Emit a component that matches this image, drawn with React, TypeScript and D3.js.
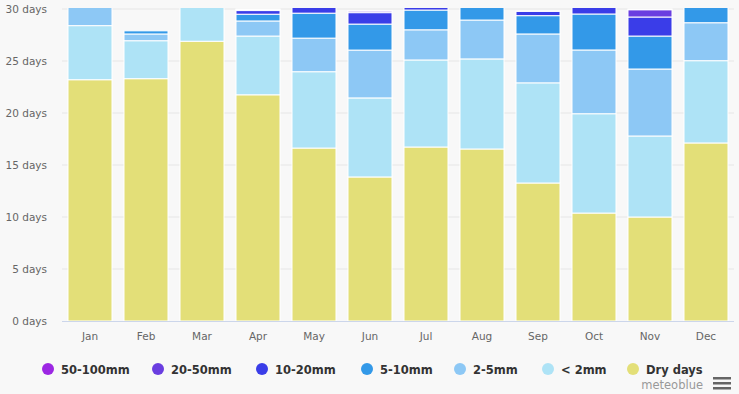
import React from "react";
import * as d3 from "d3";

const months = ["Jan", "Feb", "Mar", "Apr", "May", "Jun", "Jul", "Aug", "Sep", "Oct", "Nov", "Dec"];
const dryDays = [23.2, 23.3, 26.9, 21.75, 16.63, 13.85, 16.73, 16.54, 13.27, 10.38, 10.0, 17.12];
const under2mm = [5.2, 3.65, 4.0, 5.65, 7.34, 7.6, 8.37, 8.66, 9.63, 9.55, 7.79, 7.91];
const mm2to5 = [2.5, 0.65, 0.1, 1.45, 3.23, 4.6, 2.9, 3.74, 4.7, 6.13, 6.44, 3.65];
const mm5to10 = [0.1, 0.3, 0.0, 0.65, 2.4, 2.5, 1.9, 1.7, 1.76, 3.46, 3.17, 2.0];
const mm10to20 = [0.0, 0.0, 0.0, 0.35, 0.9, 1.1, 0.8, 0.3, 0.41, 1.1, 1.83, 0.3];
const mm20to50 = [0.0, 0.0, 0.0, 0.1, 0.4, 0.15, 0.25, 0.06, 0.03, 0.3, 0.7, 0.02];
const mm50to100 = [0.0, 0.0, 0.0, 0.05, 0.1, 0.05, 0.05, 0.0, 0.0, 0.08, 0.07, 0.0];

const seriesNames = ["Dry days", "< 2mm", "2-5mm", "5-10mm", "10-20mm", "20-50mm", "50-100mm"];
const seriesValues = [dryDays, under2mm, mm2to5, mm5to10, mm10to20, mm20to50, mm50to100];
const seriesColors = ["#e3df78", "#aee3f6", "#8dc8f5", "#3399e8", "#3a3de8", "#6a3ee0", "#9c27e3"];
const yTicks = [0, 5, 10, 15, 20, 25, 30];

const legendOrder = [6, 5, 4, 3, 2, 1, 0];
const legendX = [48, 158, 262, 367, 460, 548, 633];

export default function App() {
  React.useEffect(() => {
    document.body.style.margin = "0";
  }, []);
  const W = 739, H = 394;
  const left = 62, right = 734, top = 9, bottom = 321;
  const x = d3.scaleBand<string>().domain(months).range([left, right]).paddingInner(12 / 56).paddingOuter(6 / 56);
  const y = d3.scaleLinear().domain([0, 30]).range([bottom, top]);

  const rows = months.map((m, i) => {
    const r: any = { month: m };
    seriesNames.forEach((s, j) => (r[s] = seriesValues[j][i]));
    return r;
  });
  const stacked = d3.stack().keys(seriesNames)(rows);
  const font = "'DejaVu Sans', Verdana, sans-serif";

  return (
    <svg width={W} height={H} style={{ display: "block", background: "#f8f8f8" }}>
      <defs>
        <clipPath id="plot">
          <rect x={left} y={top - 1} width={right - left} height={bottom - top + 1} />
        </clipPath>
      </defs>
      {yTicks.map((t) => (
        <g key={t}>
          {t > 0 && <line x1={left} x2={right} y1={y(t)} y2={y(t)} stroke="#e6e6e6" strokeWidth={1} />}
          <text x={47} y={y(t) + 4} textAnchor="end" fontSize={10.5} fill="#666" fontFamily={font}>
            {t} days
          </text>
        </g>
      ))}
      <g clipPath="url(#plot)">
        {stacked.map((layer, j) =>
          layer.map((d, i) => {
            const h = y(d[0]) - y(d[1]);
            if (h <= 0.01) return null;
            return (
              <rect
                key={j + "-" + i}
                x={x(months[i])!}
                width={x.bandwidth()}
                y={y(d[1])}
                height={h}
                fill={seriesColors[j]}
                stroke="#ffffff"
                strokeWidth={1}
              />
            );
          })
        )}
      </g>
      <line x1={left} x2={right} y1={bottom + 0.5} y2={bottom + 0.5} stroke="#ccd6eb" strokeWidth={1} />
      {months.map((m) => (
        <text key={m} x={x(m)! + x.bandwidth() / 2} y={340} textAnchor="middle" fontSize={10.5} fill="#666" fontFamily={font}>
          {m}
        </text>
      ))}
      {legendOrder.map((j, k) => (
        <g key={j}>
          <circle cx={legendX[k]} cy={369} r={6} fill={seriesColors[j]} />
          <text x={legendX[k] + 13} y={373.5} fontSize={11.5} fontWeight="bold" fill="#333" fontFamily={font}>
            {seriesNames[j]}
          </text>
        </g>
      ))}
      <text x={703} y={389} textAnchor="end" fontSize={11.5} fill="#999" fontFamily={font}>
        meteoblue
      </text>
      {[0, 1, 2].map((k) => (
        <rect key={k} x={713} y={377 + k * 5} width={18} height={2.5} fill="#666" />
      ))}
    </svg>
  );
}
